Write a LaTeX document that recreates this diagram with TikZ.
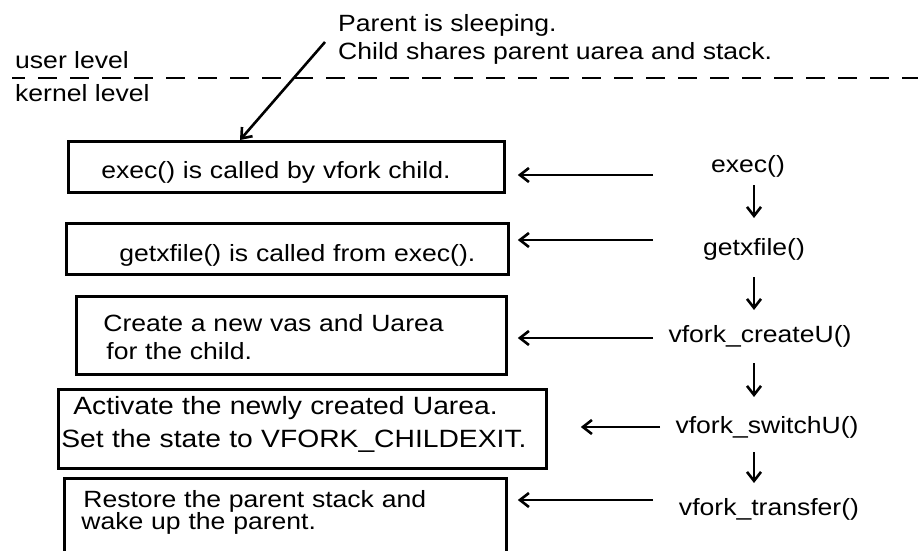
\documentclass[tikz,border=0pt]{standalone}
\usepackage{fontspec}
\setmainfont{Liberation Sans}[FakeStretch=1.13]
\usetikzlibrary{arrows.meta,calc}
\newcommand\tightlines{\lineskiplimit=-50pt\relax}
\begin{document}
\begin{tikzpicture}[x=1pt,y=-1pt,
  lbl/.style={inner sep=0pt, font=\fontsize{23.5}{28}\selectfont},
  stepbox/.style={draw, line width=2.8pt, inner sep=0pt, anchor=north west,
    align=left, font=\fontsize{23.5}{28}\selectfont},
  arr/.style={line width=2.6pt, -{Straight Barb[length=9pt,width=14pt]}},
  divider/.style={line width=2.2pt, dash pattern=on 19pt off 13pt, dash phase=6pt}]
\useasboundingbox (0,0) rectangle (918,550);
\clip (0,0) rectangle (918,550);

% level separator
\draw[divider] (12,78) -- (918,78);
\node[lbl, anchor=base west] (user) at (15,68) {user level};
\node[lbl, anchor=base west] (kernel) at (15,101) {kernel level};

% note above the separator (anchored on its last line)
\node[lbl, anchor=base west, align=left] (note) at (338,59)
  {Parent is sleeping.\\Child shares parent uarea and stack.};

% description boxes
\node[stepbox, text width=436pt, text height=37pt, text depth=14pt] (box1) at (67,140)
  {\hspace*{33pt}exec() is called by vfork child.};
\node[stepbox, text width=442pt, text height=38pt, text depth=13pt] (box2) at (65,222)
  {\hspace*{53pt}getxfile() is called from exec().};
\node[stepbox, text width=430pt, text height=35pt, text depth=43pt] (box3) at (75,295)
  {\hspace*{27pt}Create a new vas and Uarea\\\hspace*{30pt}for the child.};
\node[stepbox, text width=488pt, text height=25pt, text depth=54pt,
  font=\fontsize{25}{33}\selectfont] (box4) at (57,388)
  {\hspace*{15pt}Activate the newly created Uarea.\\\hspace*{3pt}Set the state to VFORK\_CHILDEXIT.};
\node[stepbox, text width=442pt, text height=29pt, text depth=93pt,
  font=\fontsize{23.5}{22}\selectfont\tightlines] (box5) at (63,477)
  {\hspace*{19pt}Restore the parent stack and\\\hspace*{17pt}wake up the parent.};

% call chain
\node[lbl, anchor=base] (f1) at (748,172) {exec()};
\node[lbl, anchor=base] (f2) at (754,255) {getxfile()};
\node[lbl, anchor=base] (f3) at (760,342) {vfork\_createU()};
\node[lbl, anchor=base] (f4) at (767,433) {vfork\_switchU()};
\node[lbl, anchor=base] (f5) at (769,515) {vfork\_transfer()};

\coordinate (ax) at (754,0);
\draw[arr] ($(f1.base -| ax)+(0,13)$) -- ($(f2.base -| ax)+(0,-37)$);
\draw[arr] ($(f2.base -| ax)+(0,22)$) -- ($(f3.base -| ax)+(0,-32)$);
\draw[arr] ($(f3.base -| ax)+(0,21)$) -- ($(f4.base -| ax)+(0,-36)$);
\draw[arr] ($(f4.base -| ax)+(0,19)$) -- ($(f5.base -| ax)+(0,-32)$);

% each call points to its description
\coordinate (s1) at ($(f1.base)+(-95,3)$);
\coordinate (s2) at ($(f2.base)+(-101,-15)$);
\coordinate (s3) at ($(f3.base)+(-107,-4)$);
\coordinate (s4) at ($(f4.base)+(-107,-6)$);
\coordinate (s5) at ($(f5.base)+(-116,-15)$);
\draw[arr, shorten >=12pt] (s1) -- (s1 -| box1.east);
\draw[arr, shorten >=8pt]  (s2) -- (s2 -| box2.east);
\draw[arr, shorten >=10pt] (s3) -- (s3 -| box3.east);
\draw[arr, shorten >=33pt] (s4) -- (s4 -| box4.east);
\draw[arr, shorten >=10pt] (s5) -- (s5 -| box5.east);

% note pointer
\draw[arr] ($(note.base west)+(-13,-17)$) -- ($(box1.north west)+(173,0)$);
\end{tikzpicture}
\end{document}
